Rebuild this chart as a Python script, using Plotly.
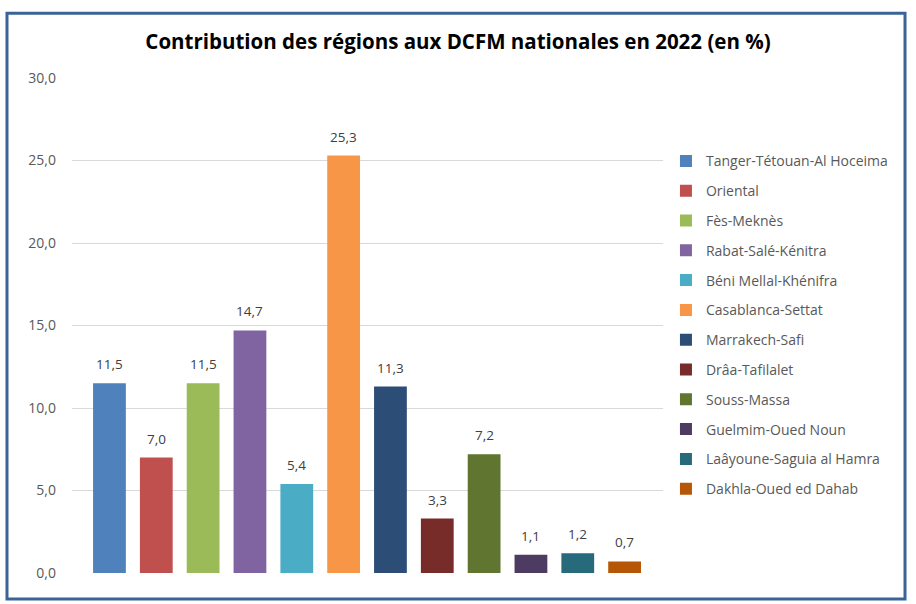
import plotly.graph_objects as go

regions = ["Tanger-Tétouan-Al Hoceima", "Oriental", "Fès-Meknès", "Rabat-Salé-Kénitra",
           "Béni Mellal-Khénifra", "Casablanca-Settat", "Marrakech-Safi", "Drâa-Tafilalet",
           "Souss-Massa", "Guelmim-Oued Noun", "Laâyoune-Saguia al Hamra", "Dakhla-Oued ed Dahab"]
values = [11.5, 7.0, 11.5, 14.7, 5.4, 25.3, 11.3, 3.3, 7.2, 1.1, 1.2, 0.7]
colors = ["#4F81BD", "#C0504D", "#9BBB59", "#8064A2", "#4BACC6", "#F79646",
          "#2C4D75", "#772C2A", "#5F7530", "#4D3B62", "#276A7C", "#B65708"]
y_ticks = [0, 5, 10, 15, 20, 25, 30]

FONT = "Open Sans"
fig = go.Figure()
for i, (name, v, c) in enumerate(zip(regions, values, colors)):
    fig.add_trace(go.Bar(x=[i], y=[v], name=name, marker_color=c, marker_line_width=0,
                         width=0.7, legendgroup=name, hoverinfo="name+y"))
    fig.add_annotation(x=i, y=v, text=f"{v:.1f}".replace(".", ","), showarrow=False,
                       yanchor="bottom", yshift=8,
                       font=dict(family=FONT, size=13.5, color="#404040"))

fig.add_shape(type="rect", xref="paper", yref="paper", x0=-0.11, x1=1.4095,
              y0=-0.0525, y1=1.131, line=dict(color="#3A6496", width=3),
              fillcolor="rgba(0,0,0,0)", layer="above")

fig.update_layout(
    width=916, height=604,
    margin=dict(l=72, r=253, t=78, b=31),
    paper_bgcolor="white", plot_bgcolor="white",
    barmode="relative",
    separators=", ",
    title=dict(text="<b>Contribution des régions aux DCFM nationales en 2022 (en %)</b>",
               x=0.5, xanchor="center", xref="container", y=0.93, yanchor="middle",
               font=dict(family=FONT, size=20.5, color="#000000")),
    legend=dict(x=1.005, y=0.864, xanchor="left", yanchor="top",
                font=dict(family=FONT, size=14, color="#595959"),
                tracegroupgap=8.6, itemwidth=30, bgcolor="rgba(0,0,0,0)"),
    xaxis=dict(range=[-0.8, 11.82], showticklabels=False, showgrid=False,
               zeroline=False, showline=False, ticks=""),
    yaxis=dict(range=[0, 30], tickvals=y_ticks, tickformat=".1f",
               showgrid=True, gridcolor="#D9D9D9", gridwidth=1, zeroline=False,
               showline=False, ticklabelstandoff=15,
               tickfont=dict(family=FONT, size=14, color="#595959")),
    showlegend=True,
)

fig.write_html("out.html", config={"displayModeBar": False},
               post_script="document.body.style.margin='0';")
